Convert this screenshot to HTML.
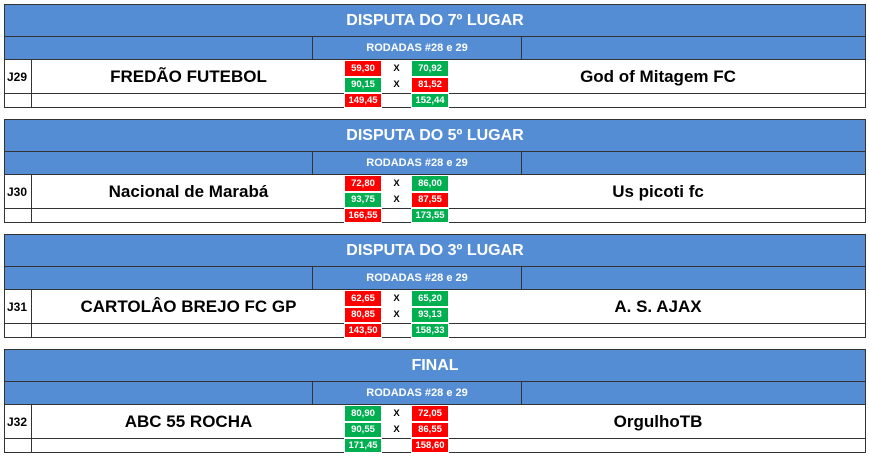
<!DOCTYPE html>
<html><head><meta charset="utf-8"><style>
body{margin:0;width:869px;height:457px;background:#fff;position:relative;overflow:hidden;font-family:"Liberation Sans",sans-serif;font-weight:bold}
.a{position:absolute;box-sizing:border-box}
.blk{position:absolute;left:4px;width:862px;height:104px;border:1px solid #333;box-sizing:border-box}
.t{left:0;top:0;width:860px;height:32px;background:#548dd4;color:#fff;font-size:16px;text-align:center;line-height:32px;border-bottom:1px solid #333}
.s{left:0;top:32px;width:860px;height:23px;background:#548dd4;border-bottom:1px solid #333}
.st{left:307px;top:32px;width:210px;height:23px;color:#fff;font-size:11px;text-align:center;line-height:23px;border-left:1px solid #333;border-right:1px solid #333}
.j{left:0;top:55px;width:27px;height:34px;border-right:1px solid #333;border-bottom:1px solid #333;font-size:12px;line-height:34px;padding-left:2px;color:#000}
.j2{left:0;top:89px;width:27px;height:14px;border-right:1px solid #333}
.ln{left:0;top:88px;width:860px;height:1px;background:#333}
.tm{top:55px;height:34px;line-height:34px;font-size:17px;text-align:center;color:#000}
.c{width:38px;font-size:9.5px;color:#fff;text-align:center;border:1px solid #fff}
.r{background:#f00}.g{background:#00b050}
.x{left:377px;width:29px;font-size:9.5px;text-align:center;color:#000}
</style></head><body>

<div class="blk" style="top:4px">
<div class="a t">DISPUTA DO 7º LUGAR</div><div class="a s"></div><div class="a st">RODADAS #28 e 29</div>
<div class="a ln"></div><div class="a j">J29</div><div class="a j2"></div>
<div class="a tm" style="left:27px;width:313px">FREDÃO FUTEBOL</div>
<div class="a tm" style="left:446px;width:414px">God of Mitagem FC</div>
<div class="a c r" style="left:339px;top:55px;height:17px;line-height:15px">59,30</div>
<div class="a x" style="top:55px;height:17px;line-height:17px">X</div>
<div class="a c g" style="left:406px;top:55px;height:17px;line-height:15px">70,92</div>
<div class="a c g" style="left:339px;top:72px;height:16px;line-height:14px">90,15</div>
<div class="a x" style="top:72px;height:16px;line-height:16px">X</div>
<div class="a c r" style="left:406px;top:72px;height:16px;line-height:14px">81,52</div>
<div class="a c r" style="left:339px;top:88px;height:15px;line-height:13px">149,45</div>
<div class="a c g" style="left:406px;top:88px;height:15px;line-height:13px">152,44</div>
</div>

<div class="blk" style="top:119px">
<div class="a t">DISPUTA DO 5º LUGAR</div><div class="a s"></div><div class="a st">RODADAS #28 e 29</div>
<div class="a ln"></div><div class="a j">J30</div><div class="a j2"></div>
<div class="a tm" style="left:27px;width:313px">Nacional de Marabá</div>
<div class="a tm" style="left:446px;width:414px">Us picoti fc</div>
<div class="a c r" style="left:339px;top:55px;height:17px;line-height:15px">72,80</div>
<div class="a x" style="top:55px;height:17px;line-height:17px">X</div>
<div class="a c g" style="left:406px;top:55px;height:17px;line-height:15px">86,00</div>
<div class="a c g" style="left:339px;top:72px;height:16px;line-height:14px">93,75</div>
<div class="a x" style="top:72px;height:16px;line-height:16px">X</div>
<div class="a c r" style="left:406px;top:72px;height:16px;line-height:14px">87,55</div>
<div class="a c r" style="left:339px;top:88px;height:15px;line-height:13px">166,55</div>
<div class="a c g" style="left:406px;top:88px;height:15px;line-height:13px">173,55</div>
</div>

<div class="blk" style="top:234px">
<div class="a t">DISPUTA DO 3º LUGAR</div><div class="a s"></div><div class="a st">RODADAS #28 e 29</div>
<div class="a ln"></div><div class="a j">J31</div><div class="a j2"></div>
<div class="a tm" style="left:27px;width:313px">CARTOLÂO BREJO FC GP</div>
<div class="a tm" style="left:446px;width:414px">A. S. AJAX</div>
<div class="a c r" style="left:339px;top:55px;height:17px;line-height:15px">62,65</div>
<div class="a x" style="top:55px;height:17px;line-height:17px">X</div>
<div class="a c g" style="left:406px;top:55px;height:17px;line-height:15px">65,20</div>
<div class="a c r" style="left:339px;top:72px;height:16px;line-height:14px">80,85</div>
<div class="a x" style="top:72px;height:16px;line-height:16px">X</div>
<div class="a c g" style="left:406px;top:72px;height:16px;line-height:14px">93,13</div>
<div class="a c r" style="left:339px;top:88px;height:15px;line-height:13px">143,50</div>
<div class="a c g" style="left:406px;top:88px;height:15px;line-height:13px">158,33</div>
</div>

<div class="blk" style="top:349px">
<div class="a t">FINAL</div><div class="a s"></div><div class="a st">RODADAS #28 e 29</div>
<div class="a ln"></div><div class="a j">J32</div><div class="a j2"></div>
<div class="a tm" style="left:27px;width:313px">ABC 55 ROCHA</div>
<div class="a tm" style="left:446px;width:414px">OrgulhoTB</div>
<div class="a c g" style="left:339px;top:55px;height:17px;line-height:15px">80,90</div>
<div class="a x" style="top:55px;height:17px;line-height:17px">X</div>
<div class="a c r" style="left:406px;top:55px;height:17px;line-height:15px">72,05</div>
<div class="a c g" style="left:339px;top:72px;height:16px;line-height:14px">90,55</div>
<div class="a x" style="top:72px;height:16px;line-height:16px">X</div>
<div class="a c r" style="left:406px;top:72px;height:16px;line-height:14px">86,55</div>
<div class="a c g" style="left:339px;top:88px;height:15px;line-height:13px">171,45</div>
<div class="a c r" style="left:406px;top:88px;height:15px;line-height:13px">158,60</div>
</div>

</body></html>
